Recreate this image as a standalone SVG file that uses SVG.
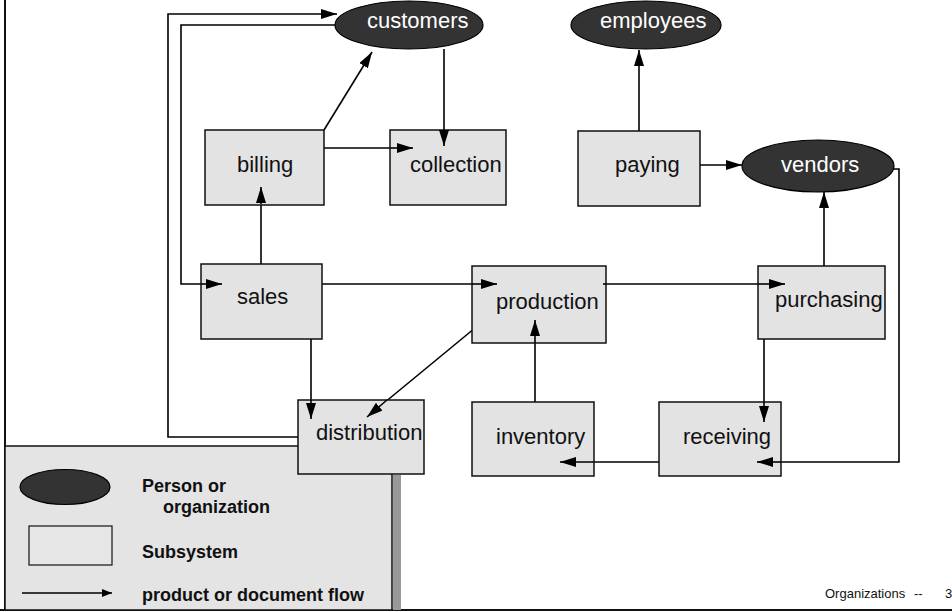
<svg xmlns="http://www.w3.org/2000/svg" width="952" height="612" viewBox="0 0 952 612">
<defs>
<marker id="ah" viewBox="0 0 16 10" refX="16" refY="5" markerWidth="16" markerHeight="10" markerUnits="userSpaceOnUse" orient="auto">
<path d="M0,0 L16,5 L0,10 Z" fill="#000"/>
</marker>
<marker id="ahs" viewBox="0 0 10 8" refX="10" refY="4" markerWidth="10" markerHeight="8" markerUnits="userSpaceOnUse" orient="auto">
<path d="M0,0 L10,4 L0,8 Z" fill="#000"/>
</marker>
</defs>
<style>
.box{fill:#e3e3e3;stroke:#111;stroke-width:1.5}
.ell{fill:#333;stroke:#000;stroke-width:1.2}
.t{font-family:"Liberation Sans",Arial,sans-serif;font-size:22px;fill:#111}
.tw{font-family:"Liberation Sans",Arial,sans-serif;font-size:22px;fill:#fff}
.lg{font-family:"Liberation Sans",Arial,sans-serif;font-size:18px;font-weight:bold;fill:#111}
.ft{font-family:"Liberation Sans",Arial,sans-serif;font-size:13px;fill:#111}
.c{fill:none;stroke:#000;stroke-width:1.6}
</style>
<rect width="952" height="612" fill="#fff"/>
<!-- frame -->
<line x1="5" y1="0" x2="5" y2="611" stroke="#111" stroke-width="2"/>
<line x1="0" y1="610" x2="952" y2="610" stroke="#111" stroke-width="2"/>
<!-- legend -->
<g id="legend">
<rect x="5" y="446" width="387" height="164" fill="#e4e4e4" stroke="#111" stroke-width="1.5"/>
<rect x="393" y="475" width="8" height="135" fill="#999"/>
<ellipse cx="65" cy="487" rx="45" ry="17.5" class="ell"/>
<rect x="29" y="526" width="83" height="39" fill="#e6e6e6" stroke="#111" stroke-width="1.2"/>
<line x1="22" y1="593" x2="112" y2="593" class="c" marker-end="url(#ahs)"/>
<text x="142" y="492" class="lg">Person or</text>
<text x="163" y="513" class="lg">organization</text>
<text x="142" y="558" class="lg">Subsystem</text>
<text x="142" y="601" class="lg">product or document flow</text>
</g>
<!-- connectors -->
<g id="connectors">
<polyline points="298,437 168,437 168,14 337,14" class="c" marker-end="url(#ah)"/>
<polyline points="336,25 181,25 181,284 222,284" class="c" marker-end="url(#ah)"/>
<line x1="324" y1="130" x2="372" y2="52" class="c" marker-end="url(#ah)"/>
<line x1="324" y1="148" x2="413" y2="148" class="c" marker-end="url(#ah)"/>
<line x1="444" y1="49" x2="444" y2="146" class="c" marker-end="url(#ah)"/>
<line x1="261" y1="264" x2="261" y2="187" class="c" marker-end="url(#ah)"/>
<line x1="322" y1="284" x2="497" y2="284" class="c" marker-end="url(#ah)"/>
<line x1="603" y1="284" x2="785" y2="284" class="c" marker-end="url(#ah)"/>
<line x1="824" y1="266" x2="824" y2="192" class="c" marker-end="url(#ah)"/>
<line x1="700" y1="165" x2="742" y2="165" class="c" marker-end="url(#ah)"/>
<line x1="639" y1="131" x2="639" y2="50" class="c" marker-end="url(#ah)"/>
<polyline points="893,169 899,169 899,462 757,462" class="c" marker-end="url(#ah)"/>
<line x1="659" y1="462" x2="560" y2="462" class="c" marker-end="url(#ah)"/>
<line x1="535" y1="402" x2="535" y2="320" class="c" marker-end="url(#ah)"/>
<line x1="764" y1="339" x2="764" y2="422" class="c" marker-end="url(#ah)"/>
<line x1="311" y1="339" x2="311" y2="419" class="c" marker-end="url(#ah)"/>
<line x1="475" y1="328" x2="367" y2="417" class="c" marker-end="url(#ah)"/>
</g>
<!-- nodes -->
<g id="customers"><ellipse cx="409" cy="25" rx="74" ry="24" class="ell"/><text x="367" y="28" class="tw">customers</text></g>
<g id="employees"><ellipse cx="646" cy="25" rx="75" ry="24" class="ell"/><text x="600" y="28" class="tw">employees</text></g>
<g id="vendors"><ellipse cx="818" cy="166" rx="76" ry="26" class="ell"/><text x="781" y="172" class="tw">vendors</text></g>
<g id="billing"><rect x="205" y="130" width="119" height="75" class="box"/><text x="237" y="172" class="t">billing</text></g>
<g id="collection"><rect x="390" y="130" width="116" height="75" class="box"/><text x="410" y="172" class="t">collection</text></g>
<g id="paying"><rect x="578" y="131" width="122" height="75" class="box"/><text x="615" y="172" class="t">paying</text></g>
<g id="sales"><rect x="201" y="264" width="121" height="75" class="box"/><text x="237" y="304" class="t">sales</text></g>
<g id="production"><rect x="472" y="266" width="134" height="77" class="box"/><text x="496" y="309" class="t">production</text></g>
<g id="purchasing"><rect x="758" y="266" width="127" height="73" class="box"/><text x="775" y="307" class="t">purchasing</text></g>
<g id="distribution"><rect x="298" y="400" width="126" height="74" class="box"/><text x="316" y="440" class="t">distribution</text></g>
<g id="inventory"><rect x="472" y="402" width="122" height="74" class="box"/><text x="496" y="444" class="t">inventory</text></g>
<g id="receiving"><rect x="659" y="402" width="122" height="74" class="box"/><text x="683" y="444" class="t">receiving</text></g>
<!-- connector ends drawn over boxes -->
<g id="overlay">
<line x1="261" y1="204" x2="261" y2="187" class="c" marker-end="url(#ah)"/>
<line x1="444" y1="130" x2="444" y2="146" class="c" marker-end="url(#ah)"/>
<line x1="390" y1="148" x2="413" y2="148" class="c" marker-end="url(#ah)"/>
<line x1="201" y1="284" x2="222" y2="284" class="c" marker-end="url(#ah)"/>
<line x1="472" y1="284" x2="497" y2="284" class="c" marker-end="url(#ah)"/>
<line x1="603" y1="284" x2="606" y2="284" class="c"/>
<line x1="758" y1="284" x2="785" y2="284" class="c" marker-end="url(#ah)"/>
<line x1="535" y1="343" x2="535" y2="320" class="c" marker-end="url(#ah)"/>
<line x1="764" y1="402" x2="764" y2="422" class="c" marker-end="url(#ah)"/>
<line x1="311" y1="400" x2="311" y2="419" class="c" marker-end="url(#ah)"/>
<line x1="387" y1="400" x2="367" y2="417" class="c" marker-end="url(#ah)"/>
<line x1="781" y1="462" x2="757" y2="462" class="c" marker-end="url(#ah)"/>
<line x1="594" y1="462" x2="560" y2="462" class="c" marker-end="url(#ah)"/>
</g>
<g id="footer">
<text x="825" y="598" class="ft">Organizations</text>
<text x="914" y="598" class="ft">--</text>
<text x="945" y="598" class="ft">3</text>
</g>
</svg>
